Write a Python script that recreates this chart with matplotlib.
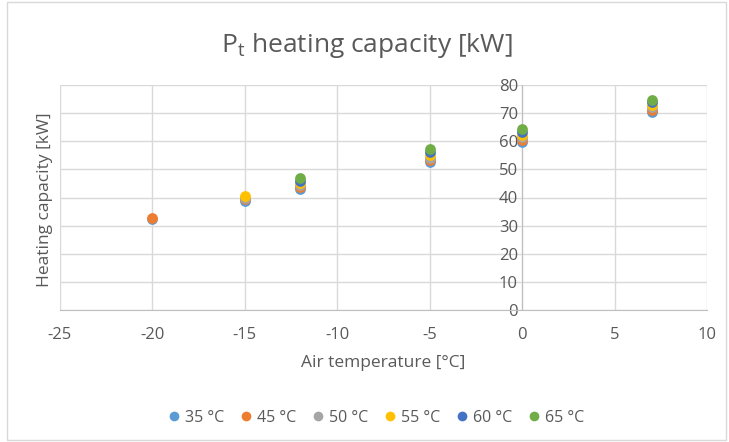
import matplotlib.pyplot as plt
from matplotlib.patches import Rectangle
from matplotlib.lines import Line2D

plt.rcParams['font.family'] = ['Open Sans', 'DejaVu Sans']
plt.rcParams['axes.unicode_minus'] = False

# air temperatures [°C]
air_temp = [-20, -15, -12, -5, 0, 7]

# heating capacity per flow temperature (None = no point)
cap_35 = [32.5, 38.6, 42.9, 52.5, 59.7, 70.4]
cap_45 = [32.8, 39.3, 43.7, 53.4, 60.5, 71.2]
cap_50 = [None, 39.9, 44.5, 54.2, 61.4, 72.1]
cap_55 = [None, 40.6, 45.3, 55.0, 62.4, 72.9]
cap_60 = [None, None, 46.0, 56.1, 63.4, 73.9]
cap_65 = [None, None, 46.8, 57.1, 64.4, 74.8]

series = [cap_35, cap_45, cap_50, cap_55, cap_60, cap_65]
labels = ['35 °C', '45 °C', '50 °C', '55 °C', '60 °C', '65 °C']
colors = ['#5B9BD5', '#ED7D31', '#A5A5A5', '#FFC000', '#4472C4', '#70AD47']

text_col = '#595959'
grid_col = '#D9D9D9'

fig = plt.figure(figsize=(7.29, 4.42), dpi=100)
fig.patches.append(Rectangle((7 / 729, 2 / 442), 719 / 729, 438 / 442,
                             transform=fig.transFigure, fill=False,
                             edgecolor=grid_col, linewidth=1))

ax = fig.add_axes([60 / 729, 1 - 310 / 442, 647 / 729, 225 / 442])

for vals, lab, col in zip(series, labels, colors):
    xs = [x for x, v in zip(air_temp, vals) if v is not None]
    ys = [v for v in vals if v is not None]
    ax.scatter(xs, ys, s=60, color=col, label=lab, zorder=3, linewidths=0)

ax.set_xlim(-25, 10)
ax.set_ylim(0, 80)
ax.set_xticks(range(-25, 11, 5))
ax.set_yticks(range(0, 81, 10))
ax.grid(True, color=grid_col, linewidth=1)
ax.set_axisbelow(True)

for s in ['top', 'right']:
    ax.spines[s].set_visible(False)
ax.spines['left'].set_position(('data', 0))
ax.spines['left'].set_color('#BFBFBF')
ax.spines['bottom'].set_color('#BFBFBF')
ax.tick_params(axis='both', length=0, labelsize=12, colors=text_col)
ax.tick_params(axis='x', pad=12)
ax.tick_params(axis='y', pad=3)

fig.text(367 / 729, 1 - 45 / 442, 'P$_\\mathregular{t}$ heating capacity [kW]',
         fontsize=19, color=text_col, ha='center', va='center')
ax.set_xlabel('Air temperature [°C]', fontsize=12.5, color=text_col, labelpad=9)
fig.text(45 / 729, 1 - 200 / 442, 'Heating capacity [kW]', rotation=90,
         fontsize=12.5, color=text_col, ha='center', va='center')

handles = [Line2D([], [], marker='o', linestyle='', markersize=7,
                  markerfacecolor=c, markeredgewidth=0) for c in colors]
fig.legend(handles, labels, loc='center', bbox_to_anchor=(375 / 729, 1 - 418 / 442),
           ncol=6, frameon=False, fontsize=11.5, labelcolor=text_col,
           handletextpad=0.15, columnspacing=0.9, handlelength=1)

fig.savefig('out.png', dpi=100)
